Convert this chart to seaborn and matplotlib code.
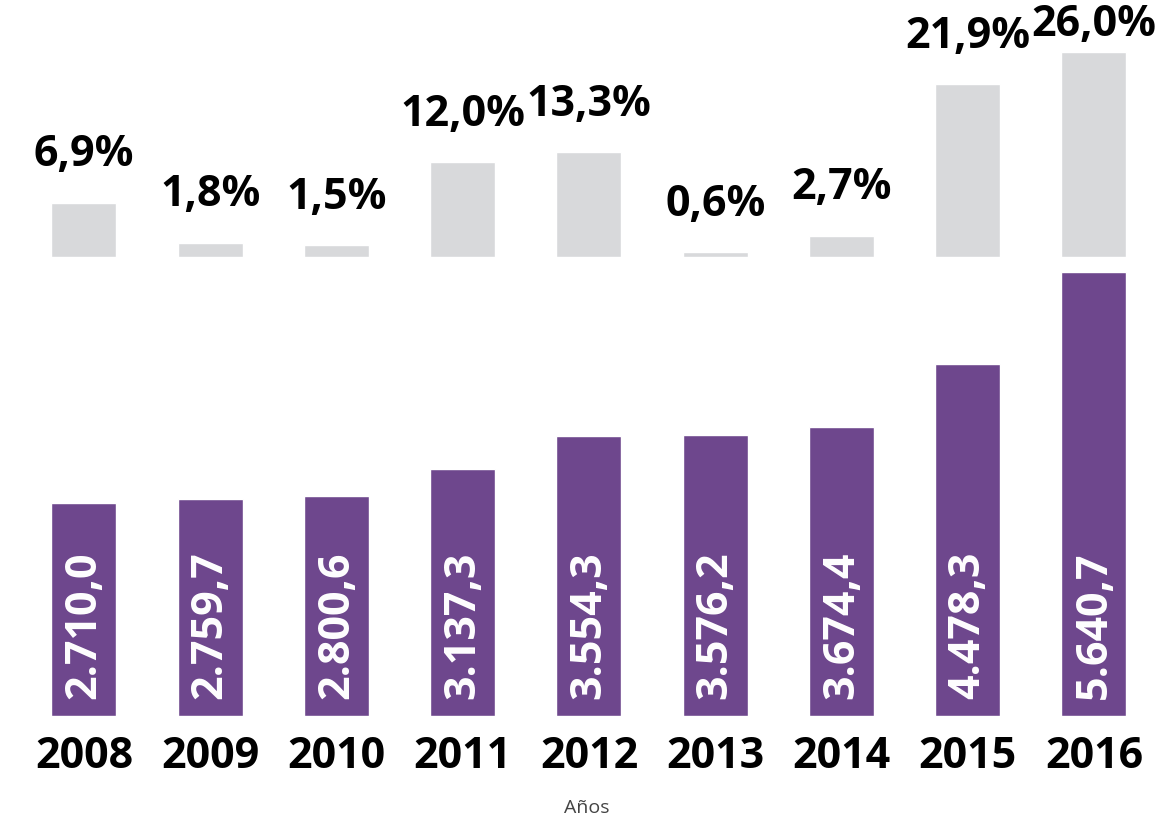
import matplotlib
matplotlib.use("Agg")
import matplotlib.pyplot as plt
import seaborn as sns

# datos
anios = ['2008', '2009', '2010', '2011', '2012', '2013', '2014', '2015', '2016']
valores = [2710.0, 2759.7, 2800.6, 3137.3, 3554.3, 3576.2, 3674.4, 4478.3, 5640.7]
variacion = [6.9, 1.8, 1.5, 12.0, 13.3, 0.6, 2.7, 21.9, 26.0]

morado = '#6E478D'
gris = '#D8D9DB'

sns.set_style("white")
plt.rcParams['font.family'] = ['Open Sans', 'DejaVu Sans']


def fmt_es(v, dec=1):
    s = f"{v:,.{dec}f}"
    return s.replace(',', 'X').replace('.', ',').replace('X', '.')


fig = plt.figure(figsize=(11.73, 8.17), dpi=100)
ax_top = fig.add_axes([0, 0.6854, 1, 0.3146])
ax_bot = fig.add_axes([0, 0.1236, 1, 0.5581])

sns.barplot(x=anios, y=variacion, color=gris, saturation=1, width=0.515, ax=ax_top)
sns.barplot(x=anios, y=valores, color=morado, saturation=1, width=0.515, ax=ax_bot)

for ax in (ax_top, ax_bot):
    ax.set_xlim(-0.665, 8.626)
    sns.despine(ax=ax, left=True, bottom=True)
    ax.set_yticks([])
    ax.set_ylabel('')

ax_top.set_ylim(0, 32.6)
ax_bot.set_ylim(0, 5794)

# porcentajes sobre las barras grises
for i, v in enumerate(variacion):
    pad = 4 if v == max(variacion) else 19
    ax_top.annotate(fmt_es(v) + '%', xy=(i, v), xytext=(0, pad),
                    textcoords='offset points', ha='center', va='bottom',
                    fontsize=31, fontweight='bold', color='black',
                    annotation_clip=False)

# valores dentro de las barras moradas
for i, v in enumerate(valores):
    ax_bot.annotate(fmt_es(v), xy=(i, 0), xytext=(0, 12),
                    textcoords='offset points', ha='center', va='bottom',
                    rotation=90, fontsize=31, fontweight='bold', color='white')

ax_top.set_xticks([])
ax_top.set_xlabel('')
ax_bot.tick_params(axis='x', length=0, pad=14)
for lbl in ax_bot.get_xticklabels():
    lbl.set_fontsize(31)
    lbl.set_fontweight('bold')
    lbl.set_color('black')
ax_bot.set_xlabel('Años', fontsize=14, color='#444444', labelpad=15)

fig.savefig('out.png', dpi=100)
